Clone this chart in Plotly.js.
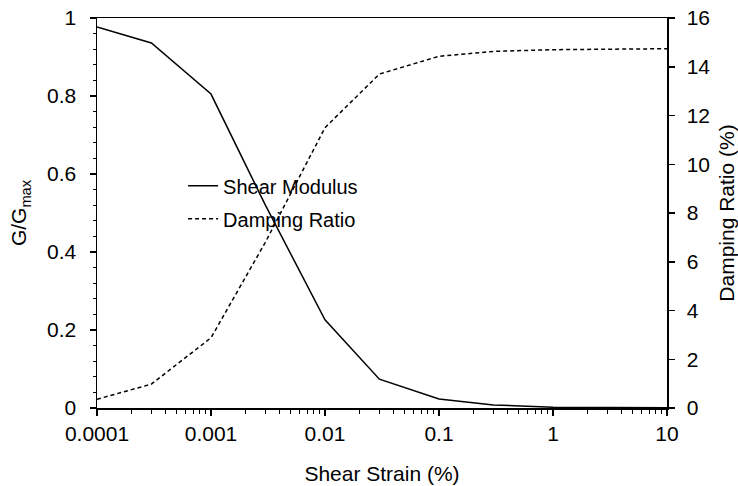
<!DOCTYPE html>
<html>
<head>
<meta charset="utf-8">
<script src="https://cdn.plot.ly/plotly-3.0.1.min.js"></script>
<style>html,body{margin:0;padding:0;background:#fff;}#chart{width:738px;height:486px;}</style>
</head>
<body>
<div id="chart"></div>
<script>
var strain = [0.0001, 0.0003, 0.001, 0.003, 0.01, 0.03, 0.1, 0.3, 1, 3, 10];
var shearModulus = [0.977, 0.936, 0.805, 0.52, 0.226, 0.074, 0.023, 0.008, 0.002, 0.001, 0.0005];
var dampingRatio = [0.36, 0.98, 2.88, 6.8, 11.5, 13.7, 14.43, 14.63, 14.7, 14.73, 14.74];
var xTickVals = [0.0001, 0.001, 0.01, 0.1, 1, 10];
var xTickText = ['0.0001', '0.001', '0.01', '0.1', '1', '10'];

var FONT = 'Liberation Sans, Arial, sans-serif';
var FS = 21;

var traces = [
  {x: strain, y: shearModulus, type: 'scatter', mode: 'lines', name: 'Shear Modulus',
   line: {color: '#000', width: 1.5}, yaxis: 'y', legendgroup: 'a'},
  {x: strain, y: dampingRatio, type: 'scatter', mode: 'lines', name: 'Damping Ratio',
   line: {color: '#000', width: 1.5, dash: '4px,3px'}, yaxis: 'y2', legendgroup: 'b'}
];

var layout = {
  width: 738, height: 486,
  margin: {l: 97, r: 71, t: 18, b: 78},
  paper_bgcolor: '#fff', plot_bgcolor: '#fff',
  font: {family: FONT, size: FS, color: '#000'},
  showlegend: true,
  legend: {x: 0.151, y: 0.62, xanchor: 'left', yanchor: 'top', bgcolor: 'rgba(0,0,0,0)',
           font: {family: FONT, size: 20, color: '#000'}, traceorder: 'grouped', tracegroupgap: 4},
  xaxis: {
    type: 'log', range: [-4, 1],
    tickvals: xTickVals, ticktext: xTickText,
    ticks: 'outside', ticklen: 6, tickwidth: 1.5, tickcolor: '#000',
    showline: true, linecolor: '#000', linewidth: 1.5, mirror: true,
    showgrid: false, zeroline: false,
    minor: {ticks: 'outside', ticklen: 4, tickwidth: 1, tickcolor: '#000', dtick: 'D1', showgrid: false},
    title: {text: 'Shear Strain (%)', font: {family: FONT, size: FS}, standoff: 22},
    tickfont: {family: FONT, size: FS}
  },
  yaxis: {
    range: [0, 1], dtick: 0.2, tick0: 0,
    ticks: 'outside', ticklen: 6, tickwidth: 1.5, tickcolor: '#000',
    showline: true, linecolor: '#000', linewidth: 1.5,
    showgrid: false, zeroline: false, ticklabelstandoff: 9,
    minor: {ticks: 'outside', ticklen: 3, tickwidth: 1, tickcolor: '#000', dtick: 0.04, showgrid: false},
    title: {text: 'G/G<sub>max</sub>', font: {family: FONT, size: FS}, standoff: 14},
    tickfont: {family: FONT, size: FS}
  },
  yaxis2: {
    overlaying: 'y', side: 'right', range: [0, 16], dtick: 2, tick0: 0,
    ticks: 'outside', ticklen: 6, tickwidth: 1.5, tickcolor: '#000',
    showline: true, linecolor: '#000', linewidth: 1.5,
    showgrid: false, zeroline: false, ticklabelstandoff: 8,
    title: {text: 'Damping Ratio (%)', font: {family: FONT, size: FS}, standoff: 16},
    tickfont: {family: FONT, size: FS}
  }
};

Plotly.newPlot('chart', traces, layout, {displayModeBar: false, staticPlot: true});
</script>
</body>
</html>
